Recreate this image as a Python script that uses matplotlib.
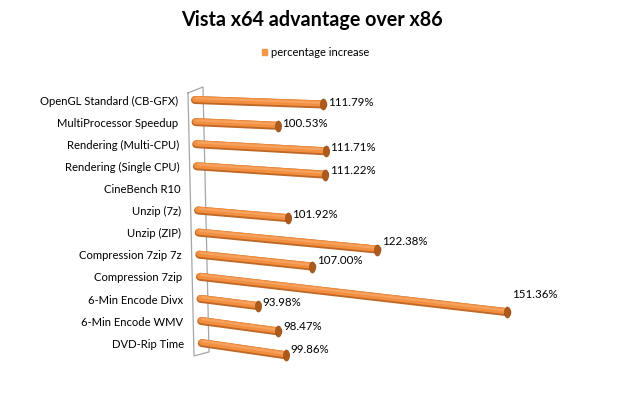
import numpy as np
import matplotlib
matplotlib.use("Agg")
import matplotlib.pyplot as plt
import matplotlib.transforms as mtransforms
from matplotlib.path import Path
from matplotlib.markers import MarkerStyle

# data (top row first)
categories = ["OpenGL Standard (CB-GFX)", "MultiProcessor Speedup", "Rendering (Multi-CPU)",
              "Rendering (Single CPU)", "CineBench R10", "Unzip (7z)", "Unzip (ZIP)",
              "Compression 7zip 7z", "Compression 7zip", "6-Min Encode Divx",
              "6-Min Encode WMV", "DVD-Rip Time"]
pct_increase = [111.79, 100.53, 111.71, 111.22, np.nan, 101.92, 122.38,
                107.00, 151.36, 93.98, 98.47, 99.86]
series_name = "percentage increase"
title = "Vista x64 advantage over x86"

plt.rcParams['font.family'] = ['Lato', 'DejaVu Sans']

W, H = 624, 409
fig = plt.figure(figsize=(W / 100, H / 100), dpi=100)
ax = fig.add_axes([0, 0, 1, 1])
ax.set_axis_off()

# fake 3D perspective: value axis starts at V0, rows are spaced ROW_PX apart
V0 = 81.0
K_REF = 4.3        # px per percent
ROW_PX = 22.1
LEFT_PX = 195
TOP_PX = 100
ax.set_xlim(V0 - LEFT_PX / K_REF, V0 + (W - LEFT_PX) / K_REF)
ax.set_ylim((H - TOP_PX) / ROW_PX, -TOP_PX / ROW_PX)


def project(v, i):
    """left/right end of a bar in row i, with a bit of perspective."""
    shift = 0.62 * i                 # bars start further right lower down
    k = 4.17 + 0.025 * i             # horizontal scale grows a bit
    slope = 0.035 + 0.01 * i         # bars tilt more lower down
    length = k * (v - V0)
    x0 = V0 + shift / K_REF
    x1 = V0 + (shift + length) / K_REF
    y1 = i + slope * length / ROW_PX
    return x0, i, x1, y1


# back wall of the chart
wall_x = [V0 - 1.63, V0 + 1.86, V0 + 3.26, V0 - 0.23, V0 - 1.63]
wall_y = [-0.32, -0.59, 11.40, 11.58, -0.32]
ax.plot(wall_x, wall_y, color="#a6a6a6", lw=0.9, zorder=1)

up1 = mtransforms.offset_copy(ax.transData, fig, x=0, y=0.9, units='dots')
up2 = mtransforms.offset_copy(ax.transData, fig, x=0, y=1.8, units='dots')
cap = MarkerStyle(Path.unit_circle().transformed(mtransforms.Affine2D().scale(0.55, 1.0)))

for i, (name, v) in enumerate(zip(categories, pct_increase)):
    ax.text(V0 + (178 - LEFT_PX + 0.55 * i) / K_REF, i + 0.05, name,
            ha="right", va="center", fontsize=8.1, color="#000000")
    if np.isnan(v):
        continue
    x0, y0, x1, y1 = project(v, i)
    ax.plot([x0, x1], [y0, y1], color="#c06826", lw=5.8, solid_capstyle="round", zorder=3)
    ax.plot([x0, x1], [y0, y1], color="#f28f40", lw=4.4, solid_capstyle="round",
            transform=up1, zorder=4)
    ax.plot([x0 + 0.3, x1 - 0.3], [y0, y1], color="#f7a25e", lw=1.6, solid_capstyle="round",
            transform=up2, zorder=5)
    ax.plot([x1], [y1], marker=cap, ms=8, color="#ad5a1c", mec="#944c16", mew=0.4, zorder=6)
    ax.text(x1 + 4.5 / K_REF, (y0 + y1) / 2, f"{v:.2f}%", ha="left", va="center",
            fontsize=8.3, color="#000000")

# title and legend
fig.text(312 / W, 1 - 20 / H, title, ha="center", va="center",
         fontsize=14.2, fontweight="bold", color="#000000")
fig.patches.append(plt.Rectangle((262 / W, 1 - 55 / H), 5 / W, 6 / H,
                                 transform=fig.transFigure, color="#f79646"))
fig.text(271 / W, 1 - 52 / H, series_name, ha="left", va="center",
         fontsize=8, color="#000000")

fig.savefig("out.png", dpi=100, facecolor="white")
